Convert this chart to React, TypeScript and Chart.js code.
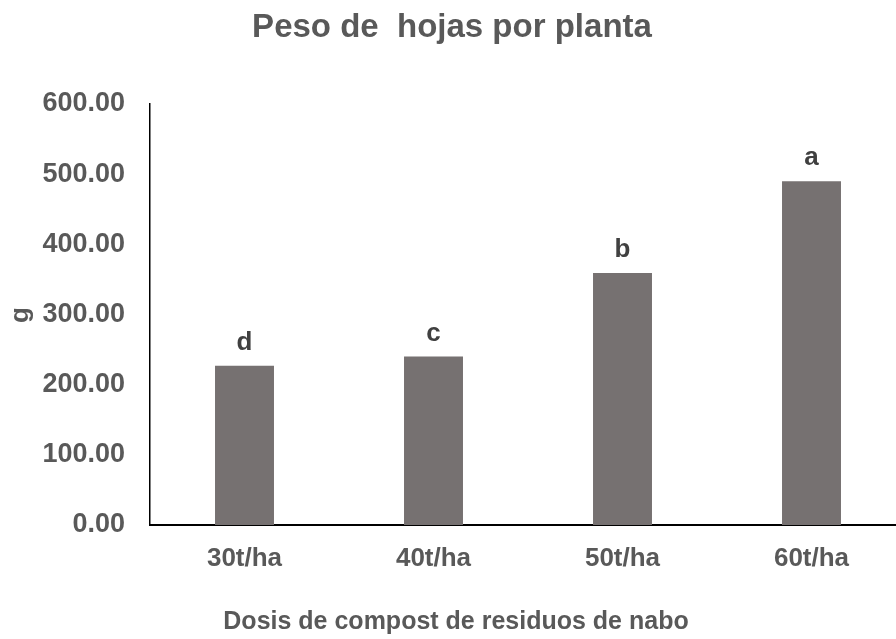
import React, { useEffect, useRef } from "react";
import { Chart, registerables } from "chart.js";

Chart.register(...registerables);

// Dosis de compost y peso de hojas por planta (g)
const categories = ["30t/ha", "40t/ha", "50t/ha", "60t/ha"];
const pesoHojas = [227, 240, 359, 490];
const letras = ["d", "c", "b", "a"];
const yTicks = [0, 100, 200, 300, 400, 500, 600];

const chartTitle = "Peso de  hojas por planta";
const xTitle = "Dosis de compost de residuos de nabo";
const yTitle = "g";

const FAMILY = "'Liberation Sans', Arial, Helvetica, sans-serif";
const TEXT = "#595959";
const BAR = "#767171";

const annotate = {
  id: "annotate",
  afterDatasetsDraw(chart: any) {
    const ctx = chart.ctx as CanvasRenderingContext2D;
    const meta = chart.getDatasetMeta(0);
    ctx.save();

    // significance letters above each bar
    ctx.font = `bold 26px ${FAMILY}`;
    ctx.fillStyle = "#404040";
    ctx.textAlign = "center";
    ctx.textBaseline = "alphabetic";
    meta.data.forEach((bar: any, i: number) => {
      ctx.fillText(letras[i], bar.x, bar.y - 16);
    });

    // chart title
    ctx.fillStyle = TEXT;
    ctx.font = `bold 33px ${FAMILY}`;
    ctx.fillText(chartTitle, 452, 37);

    // x axis title
    ctx.font = `bold 25px ${FAMILY}`;
    ctx.fillText(xTitle, 456, 629);

    // y axis title
    ctx.translate(21, 315);
    ctx.rotate(-Math.PI / 2);
    ctx.textBaseline = "middle";
    ctx.font = `bold 26px ${FAMILY}`;
    ctx.fillText(yTitle, 0, 0);

    ctx.restore();
  },
};

export default function App() {
  const canvasRef = useRef<HTMLCanvasElement | null>(null);

  useEffect(() => {
    const canvas = canvasRef.current;
    if (!canvas) return;
    const chart = new Chart(canvas, {
      type: "bar",
      data: {
        labels: categories,
        datasets: [
          {
            data: pesoHojas,
            backgroundColor: BAR,
            borderWidth: 0,
            barPercentage: 1,
            categoryPercentage: 0.312,
          },
        ],
      },
      options: {
        responsive: false,
        animation: false,
        layout: { padding: { top: 104, left: 0, right: 6, bottom: 0 } },
        plugins: {
          legend: { display: false },
          tooltip: { enabled: false },
          title: { display: false },
        },
        scales: {
          x: {
            grid: { display: false, drawTicks: false },
            border: { display: true, color: "#000", width: 2 },
            ticks: {
              color: TEXT,
              font: { family: FAMILY, size: 26, weight: "bold" },
              padding: 18,
            },
            afterFit(scale: any) {
              scale.height = 114;
            },
          },
          y: {
            min: 0,
            max: 600,
            grid: { display: false, drawTicks: false },
            border: { display: true, color: "#000", width: 1.5 },
            afterBuildTicks(scale: any) {
              scale.ticks = yTicks.map((v) => ({ value: v }));
            },
            ticks: {
              color: TEXT,
              font: { family: FAMILY, size: 27, weight: "bold" },
              padding: 25,
              callback: (v: any) => Number(v).toFixed(2),
            },
            afterFit(scale: any) {
              scale.width = 150;
            },
          },
        },
      },
      plugins: [annotate],
    });
    return () => chart.destroy();
  }, []);

  return (
    <div
      style={{
        position: "fixed",
        left: 0,
        top: 0,
        width: 896,
        height: 639,
        overflow: "hidden",
        background: "#fff",
      }}
    >
      <canvas ref={canvasRef} width={912} height={639} style={{ display: "block" }} />
    </div>
  );
}
